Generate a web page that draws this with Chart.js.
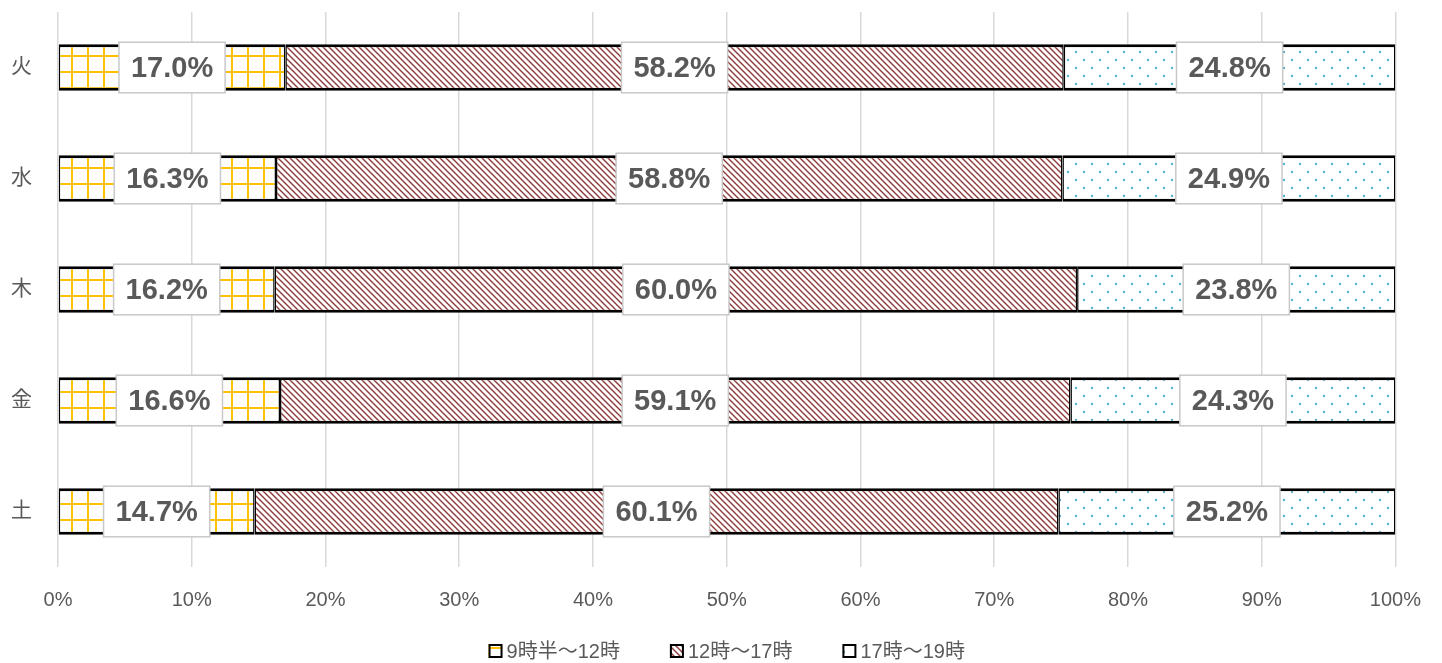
<!DOCTYPE html>
<html lang="ja">
<head>
<meta charset="utf-8">
<title>曜日別 時間帯構成比</title>
<script src="https://cdn.jsdelivr.net/npm/chart.js@4/dist/chart.umd.min.js"></script>
<style>
  html, body { margin: 0; padding: 0; background: #ffffff; }
  #wrap { width: 1442px; height: 663px; }
</style>
</head>
<body>
<div id="wrap"><canvas id="chart" width="1442" height="663"></canvas></div>
<script>
// Weekdays (top to bottom)
const days = ['火', '水', '木', '金', '土'];
// Share of visitors by time slot, percent
const morning = [17.0, 16.3, 16.2, 16.6, 14.7];   // 9時半～12時
const afternoon = [58.2, 58.8, 60.0, 59.1, 60.1]; // 12時～17時
const evening = [24.8, 24.9, 23.8, 24.3, 25.2];   // 17時～19時
const seriesNames = ['9時半～12時', '12時～17時', '17時～19時'];
const tickValues = [0, 10, 20, 30, 40, 50, 60, 70, 80, 90, 100];

const FONT = "'Liberation Sans', 'Noto Sans CJK JP', sans-serif";
const TEXT = '#595959';

// Fill patterns built from small tiles
function tile(size, draw) {
  const c = document.createElement('canvas');
  c.width = size; c.height = size;
  const g = c.getContext('2d');
  g.fillStyle = '#ffffff';
  g.fillRect(0, 0, size, size);
  draw(g, size);
  return document.getElementById('chart').getContext('2d').createPattern(c, 'repeat');
}
const gridFill = tile(16, (g, s) => {
  g.strokeStyle = '#FFC000';
  g.lineWidth = 2;
  g.beginPath();
  g.moveTo(8, 0); g.lineTo(8, s);
  g.moveTo(0, 8); g.lineTo(s, 8);
  g.stroke();
});
const hatchFill = tile(6, (g, s) => {
  g.strokeStyle = '#8E3B3B';
  g.lineWidth = 1.4;
  g.beginPath();
  g.moveTo(-1, -1); g.lineTo(s + 1, s + 1);
  g.moveTo(-1, s - 1); g.lineTo(1, s + 1);
  g.moveTo(s - 1, -1); g.lineTo(s + 1, 1);
  g.stroke();
});
const dotFill = tile(16, (g) => {
  g.fillStyle = '#4BACC6';
  g.beginPath(); g.arc(4, 4, 1.15, 0, Math.PI * 2); g.fill();
  g.beginPath(); g.arc(12, 12, 1.15, 0, Math.PI * 2); g.fill();
});

// Value boxes centred on each segment
const valueBoxes = {
  id: 'valueBoxes',
  afterDatasetsDraw(chart) {
    const ctx = chart.ctx;
    ctx.save();
    ctx.font = "bold 29px " + FONT;
    ctx.textAlign = 'center';
    ctx.textBaseline = 'middle';
    chart.data.datasets.forEach((ds, di) => {
      const meta = chart.getDatasetMeta(di);
      meta.data.forEach((bar, i) => {
        const label = ds.data[i].toFixed(1) + '%';
        const cx = (bar.x + bar.base) / 2;
        const w = ctx.measureText(label).width + 24;
        const h = bar.height + 4;
        ctx.fillStyle = '#ffffff';
        ctx.fillRect(cx - w / 2, bar.y - h / 2, w, h);
        ctx.strokeStyle = '#C8C8C8';
        ctx.lineWidth = 1.5;
        ctx.strokeRect(cx - w / 2, bar.y - h / 2, w, h);
        ctx.fillStyle = TEXT;
        ctx.fillText(label, cx, bar.y + 1);
      });
    });
    ctx.restore();
  }
};

// Legend row under the axis, centred on the plot area
const legendRow = {
  id: 'legendRow',
  afterDraw(chart) {
    const ctx = chart.ctx;
    const area = chart.chartArea;
    const y = 651, box = 14, gapText = 4, gapItem = 50;
    ctx.save();
    ctx.font = "20px " + FONT;
    ctx.textBaseline = 'middle';
    ctx.textAlign = 'left';
    const items = chart.data.datasets.map(ds => ({
      ds, w: box + gapText + ctx.measureText(ds.label).width
    }));
    const total = items.reduce((s, it) => s + it.w, 0) + gapItem * (items.length - 1);
    let x = (area.left + area.right) / 2 - total / 2;
    items.forEach(it => {
      ctx.fillStyle = it.ds.backgroundColor;
      ctx.fillRect(x, y - box / 2, box, box);
      ctx.strokeStyle = '#000000';
      ctx.lineWidth = 2;
      ctx.strokeRect(x + 1, y - box / 2 + 1, box - 2, box - 2);
      ctx.fillStyle = TEXT;
      ctx.fillText(it.ds.label, x + box + gapText, y + 1);
      x += it.w + gapItem;
    });
    ctx.restore();
  }
};

const border = { top: 3, bottom: 3, left: 1.5, right: 1.5 };

new Chart(document.getElementById('chart'), {
  type: 'bar',
  data: {
    labels: days,
    datasets: [
      { label: seriesNames[0], data: morning, backgroundColor: gridFill, borderColor: '#000000', borderWidth: border, borderSkipped: false },
      { label: seriesNames[1], data: afternoon, backgroundColor: hatchFill, borderColor: '#000000', borderWidth: border, borderSkipped: false },
      { label: seriesNames[2], data: evening, backgroundColor: dotFill, borderColor: '#000000', borderWidth: border, borderSkipped: false }
    ]
  },
  options: {
    indexAxis: 'y',
    responsive: false,
    animation: false,
    barPercentage: 0.42,
    categoryPercentage: 1,
    layout: { padding: { top: 12, right: 46, left: 0, bottom: 30 } },
    scales: {
      x: {
        stacked: true,
        min: 0,
        max: 100,
        afterBuildTicks(scale) { scale.ticks = tickValues.map(v => ({ value: v })); },
        afterFit(scale) { scale.height = 66; },
        grid: { color: '#D9D9D9', lineWidth: 1.5, drawTicks: false },
        border: { display: false },
        ticks: {
          padding: 21,
          color: TEXT,
          font: { family: FONT, size: 20 },
          callback: v => v + '%'
        }
      },
      y: {
        stacked: true,
        afterFit(scale) {
          scale.width = 58;
          scale.paddingTop = 0;
          scale.paddingBottom = 0;
        },
        grid: { display: false, drawTicks: false },
        border: { display: false },
        ticks: {
          padding: 26,
          color: TEXT,
          font: { family: FONT, size: 21 }
        }
      }
    },
    plugins: {
      tooltip: { enabled: false },
      legend: { display: false }
    }
  },
  plugins: [valueBoxes, legendRow]
});
</script>
</body>
</html>
